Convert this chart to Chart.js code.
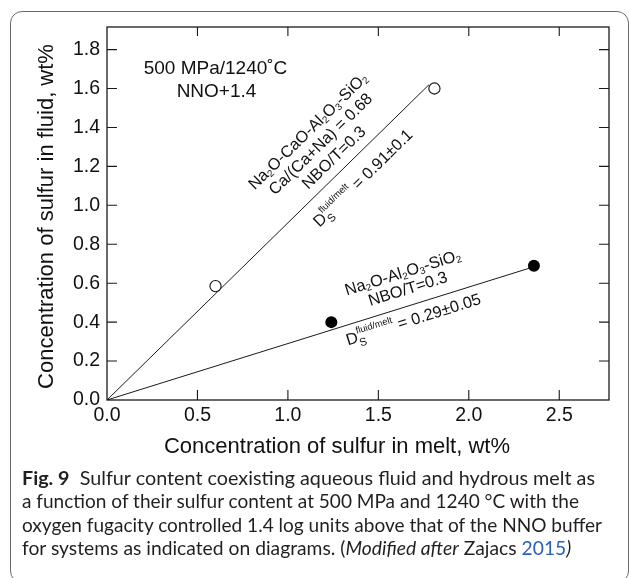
<!DOCTYPE html>
<html>
<head>
<meta charset="utf-8">
<title>Sulfur partitioning between fluid and melt</title>
<script src="https://cdn.jsdelivr.net/npm/chart.js@4.4.0/dist/chart.umd.min.js"></script>
<style>
  html, body { margin: 0; padding: 0; background: #fff; }
  body { width: 629px; height: 578px; position: relative; overflow: hidden; }
  #box {
    position: absolute; left: 9.5px; top: 11px; width: 619px; height: 572px;
    border: 1.5px solid #6a6a6a; border-radius: 12px; box-sizing: border-box;
  }
  #chart { position: absolute; left: 0; top: 0; }
  #caption {
    position: absolute; left: 22px; top: 466px;
    font-family: Lato, "Noto Sans", sans-serif; font-size: 19px; line-height: 23.3px;
    color: #231f20; white-space: nowrap;
  }
  #caption .ln span { display: inline-block; transform-origin: 0 50%; }
  #caption b { font-weight: 700; }
  #caption .ref { color: #2b5fb8; }
</style>
</head>
<body>
<div id="box"></div>
<canvas id="chart" width="629" height="578"></canvas>
<div id="caption">
  <div class="ln"><span><b>Fig. 9</b>&nbsp; Sulfur content coexisting aqueous fluid and hydrous melt as</span></div>
  <div class="ln"><span>a function of their sulfur content at 500 MPa and 1240 °C with the</span></div>
  <div class="ln"><span>oxygen fugacity controlled 1.4 log units above that of the NNO buffer</span></div>
  <div class="ln"><span>for systems as indicated on diagrams. (<i>Modified after</i> Zajacs <span class="ref">2015</span><i>)</i></span></div>
</div>
<script>
// Sulfur in melt (x) and in coexisting fluid (y), wt%
const meltOpen    = [0.60, 1.81];   // Na2O-CaO-Al2O3-SiO2 runs
const fluidOpen   = [0.585, 1.60];
const meltFilled  = [1.24, 2.36];   // Na2O-Al2O3-SiO2 runs
const fluidFilled = [0.40, 0.69];

// Fluid/melt partition coefficients (slopes of the fits) and fit extents
const partitionD   = [0.91, 0.29];
const partitionErr = ['0.1', '0.05'];
const fitMeltEnd   = [1.78, 2.36];

// Axis ticks
const xTicks = [0.0, 0.5, 1.0, 1.5, 2.0, 2.5];
const yTicks = [0.0, 0.2, 0.4, 0.6, 0.8, 1.0, 1.2, 1.4, 1.6, 1.8];

const FONT = '"Liberation Sans", Arial, Helvetica, sans-serif';
const INK = '#111';

// Caption: condense each line to the column (last line uses the mean factor)
(function fitCaption() {
  const spans = Array.from(document.querySelectorAll('#caption .ln > span'));
  const targets = [573, 557, 580];
  const k = [];
  spans.forEach((sp, i) => {
    if (i < targets.length) {
      k[i] = targets[i] / sp.getBoundingClientRect().width;
    }
  });
  const mean = (k[0] + k[1] + k[2]) / 3;
  spans.forEach((sp, i) => {
    const f = i < targets.length ? k[i] : mean;
    sp.style.transform = 'scaleX(' + f + ')';
  });
})();

function fitLine(i) {
  return [{ x: 0, y: 0 }, { x: fitMeltEnd[i], y: partitionD[i] * fitMeltEnd[i] }];
}
function pts(xs, ys) { return xs.map((x, i) => ({ x: x, y: ys[i] })); }

// Small rich-text helper: _{..} subscript, ^{..} superscript (stacked when adjacent)
function parseRich(s) {
  const out = []; let i = 0, buf = '';
  while (i < s.length) {
    const c = s[i];
    if ((c === '_' || c === '^') && s[i + 1] === '{') {
      if (buf) { out.push({ t: buf, k: 'n' }); buf = ''; }
      const j = s.indexOf('}', i);
      const t = s.slice(i + 2, j);
      const k = c === '_' ? 'sub' : 'sup';
      const prev = out[out.length - 1];
      if (prev && prev.k !== 'n' && prev.k !== k && !prev.pair) {
        prev.pair = { t: t, k: 's' + k };
        prev.k = 's' + prev.k;
      } else out.push({ t: t, k: k });
      i = j + 1;
    } else { buf += c; i++; }
  }
  if (buf) out.push({ t: buf, k: 'n' });
  return out;
}
const STY = {
  n:    { s: 1.0,  dy: 0 },
  sub:  { s: 0.6,  dy: 0.13 },
  sup:  { s: 0.6,  dy: -0.45 },
  ssub: { s: 0.68, dy: 0.3 },
  ssup: { s: 0.58, dy: -0.52 }
};
function segWidth(ctx, seg, fs) {
  ctx.font = (fs * STY[seg.k].s) + 'px ' + FONT;
  let w = ctx.measureText(seg.t).width;
  if (seg.pair) {
    ctx.font = (fs * STY[seg.pair.k].s) + 'px ' + FONT;
    w = Math.max(w, ctx.measureText(seg.pair.t).width);
  }
  return w;
}
function drawRich(ctx, str, fs, cx, cy, angle) {
  const segs = parseRich(str);
  let total = 0;
  segs.forEach(sg => { total += segWidth(ctx, sg, fs); });
  ctx.save();
  ctx.translate(cx, cy);
  ctx.rotate(-angle);
  ctx.textAlign = 'left';
  ctx.textBaseline = 'alphabetic';
  ctx.fillStyle = INK;
  let x = -total / 2;
  const base = 0.35 * fs;
  segs.forEach(sg => {
    const w = segWidth(ctx, sg, fs);
    [sg, sg.pair].forEach(p => {
      if (!p) return;
      ctx.font = (fs * STY[p.k].s) + 'px ' + FONT;
      ctx.fillText(p.t, x, base + STY[p.k].dy * fs);
    });
    x += w;
  });
  ctx.restore();
}

// Labels placed along each fit line: "at" = melt S on the line, "off" = px normal to it
const lineLabels = [
  { line: 0, at: 1.31, off: 52, text: 'Na_{2}O-CaO-Al_{2}O_{3}-SiO_{2}' },
  { line: 0, at: 1.31, off: 34, text: 'Ca/(Ca+Na) = 0.68' },
  { line: 0, at: 1.31, off: 15, text: 'NBO/T=0.3' },
  { line: 0, at: 1.335, off: -20, text: 'D_{S}^{fluid/melt} = ' + partitionD[0].toFixed(2) + '±' + partitionErr[0] },
  { line: 1, at: 1.69, off: 34, text: 'Na_{2}O-Al_{2}O_{3}-SiO_{2}' },
  { line: 1, at: 1.69, off: 17, text: 'NBO/T=0.3' },
  { line: 1, at: 1.67, off: -14, text: 'D_{S}^{fluid/melt} = ' + partitionD[1].toFixed(2) + '±' + partitionErr[1] }
];

const framePlugin = {
  id: 'frame',
  beforeDatasetsDraw(chart) {
    const { ctx, chartArea: a, scales: { x, y } } = chart;
    ctx.save();
    ctx.strokeStyle = '#1a1a1a';
    ctx.lineWidth = 1.3;
    ctx.strokeRect(a.left, a.top, a.right - a.left, a.bottom - a.top);
    ctx.lineWidth = 1.1;
    ctx.beginPath();
    xTicks.forEach(v => {
      if (v === 0) return;
      const px = x.getPixelForValue(v);
      ctx.moveTo(px, a.bottom); ctx.lineTo(px, a.bottom - 10);
      ctx.moveTo(px, a.top); ctx.lineTo(px, a.top + 9);
    });
    yTicks.forEach(v => {
      if (v === 0) return;
      const py = y.getPixelForValue(v);
      ctx.moveTo(a.left, py); ctx.lineTo(a.left + 10, py);
      ctx.moveTo(a.right, py); ctx.lineTo(a.right - 10, py);
    });
    ctx.stroke();
    ctx.restore();
  },
  afterDatasetsDraw(chart) {
    const { ctx, chartArea: a, scales: { x, y } } = chart;
    ctx.save();
    ctx.fillStyle = INK;
    // axis titles
    ctx.font = '22px ' + FONT;
    ctx.textAlign = 'center';
    ctx.textBaseline = 'alphabetic';
    ctx.fillText('Concentration of sulfur in melt, wt%', (a.left + a.right) / 2 - 21, 453);
    ctx.save();
    ctx.translate(53.3, (a.top + a.bottom) / 2 + 3);
    ctx.rotate(-Math.PI / 2);
    ctx.fillText('Concentration of sulfur in fluid, wt%', 0, 0);
    ctx.restore();
    // run conditions
    ctx.font = '19px ' + FONT;
    ctx.fillText('500 MPa/1240˚C', 215.5, 74);
    ctx.fillText('NNO+1.4', 216.5, 96.7);
    ctx.restore();

    // labels along the fits
    lineLabels.forEach(L => {
      const x0 = x.getPixelForValue(0), y0 = y.getPixelForValue(0);
      const x1 = x.getPixelForValue(fitMeltEnd[L.line]);
      const y1 = y.getPixelForValue(partitionD[L.line] * fitMeltEnd[L.line]);
      const ang = Math.atan2(y0 - y1, x1 - x0);
      const px = x.getPixelForValue(L.at);
      const py = y.getPixelForValue(partitionD[L.line] * L.at);
      const cx = px - Math.sin(ang) * L.off;
      const cy = py - Math.cos(ang) * L.off;
      drawRich(ctx, L.text, 16.3, cx, cy, ang);
    });
  }
};

new Chart(document.getElementById('chart'), {
  type: 'scatter',
  data: {
    datasets: [
      { label: 'Na2O-CaO-Al2O3-SiO2', data: pts(meltOpen, fluidOpen), order: 0,
        pointRadius: 5.6, pointBorderWidth: 1.1, pointBackgroundColor: '#fff', pointBorderColor: '#111' },
      { label: 'Na2O-Al2O3-SiO2', data: pts(meltFilled, fluidFilled), order: 0,
        pointRadius: 6, pointBorderWidth: 0, pointBackgroundColor: '#000', pointBorderColor: '#000' },
      { label: 'fit 1', data: fitLine(0), showLine: true, pointRadius: 0, order: 1,
        borderColor: '#1a1a1a', borderWidth: 1 },
      { label: 'fit 2', data: fitLine(1), showLine: true, pointRadius: 0, order: 1,
        borderColor: '#1a1a1a', borderWidth: 1 }
    ]
  },
  options: {
    responsive: false,
    animation: false,
    devicePixelRatio: 1,
    layout: { padding: { left: 0, top: 27, right: 20, bottom: 0 } },
    plugins: { legend: { display: false }, tooltip: { enabled: false } },
    scales: {
      x: {
        type: 'linear', position: 'bottom', min: 0, max: 2.775,
        grid: { display: false, drawTicks: false },
        border: { display: false },
        afterBuildTicks(s) { s.ticks = xTicks.map(v => ({ value: v })); },
        afterFit(s) { s.height = 178; },
        ticks: {
          font: { family: FONT, size: 19.5 }, color: INK, padding: 4,
          maxRotation: 0, autoSkip: false,
          callback: v => Number(v).toFixed(1)
        }
      },
      y: {
        type: 'linear', min: 0, max: 1.916,
        grid: { display: false, drawTicks: false },
        border: { display: false },
        afterBuildTicks(s) { s.ticks = yTicks.map(v => ({ value: v })); },
        afterFit(s) { s.width = 107; },
        ticks: {
          font: { family: FONT, size: 19.5 }, color: INK, padding: 7,
          autoSkip: false,
          callback: v => Number(v).toFixed(1)
        }
      }
    }
  },
  plugins: [framePlugin]
});
</script>
</body>
</html>
